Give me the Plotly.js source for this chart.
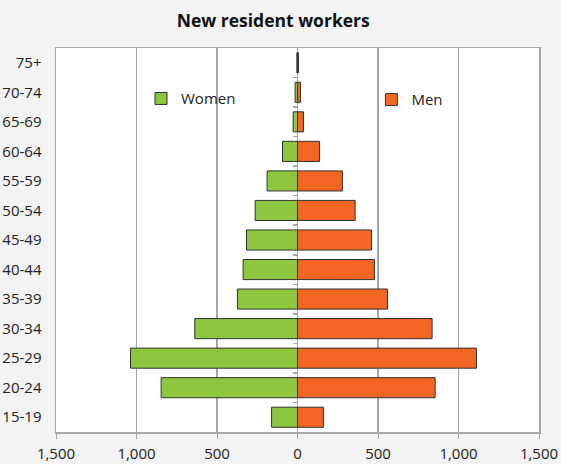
<!DOCTYPE html>
<html>
<head>
<meta charset="utf-8">
<script src="https://cdn.plot.ly/plotly-3.0.1.min.js"></script>
<style>html,body{margin:0;padding:0;background:#f2f3f2;}#chart{width:561px;height:464px;}</style>
</head>
<body>
<div id="chart"></div>
<script>
const ageGroups = ['15-19','20-24','25-29','30-34','35-39','40-44','45-49','50-54','55-59','60-64','65-69','70-74','75+'];
const women = [161, 847, 1037, 638, 373, 338, 317, 263, 189, 93, 27, 15, 4];
const men = [161, 855, 1112, 836, 559, 478, 460, 358, 279, 137, 37, 19, 6];
const xTickVals = [-1500, -1000, -500, 0, 500, 1000, 1500];
const xTickText = ['1,500', '1,000', '500', '0', '500', '1,000', '1,500'];
const catBoundaries = [0.5, 1.5, 2.5, 3.5, 4.5, 5.5, 6.5, 7.5, 8.5, 9.5, 10.5, 11.5];

const font = 'Open Sans, Noto Sans, sans-serif';
const data = [
  {
    type: 'bar', orientation: 'h', name: 'Women',
    y: ageGroups, x: women.map(v => -v),
    marker: {color: '#8dc63f', line: {color: '#333333', width: 1}},
    legend: 'legend', hoverinfo: 'skip'
  },
  {
    type: 'bar', orientation: 'h', name: 'Men',
    y: ageGroups, x: men,
    marker: {color: '#f26522', line: {color: '#333333', width: 1}},
    legend: 'legend2', hoverinfo: 'skip'
  },
  {
    type: 'scatter', mode: 'markers', x: [0], y: [0], yaxis: 'y2',
    marker: {opacity: 0}, showlegend: false, hoverinfo: 'skip'
  }
];

const layout = {
  width: 561, height: 464,
  paper_bgcolor: '#f2f3f2', plot_bgcolor: '#ffffff',
  margin: {l: 56, r: 22, t: 48, b: 32},
  title: {text: '<b>New resident workers</b>', x: 0.487, xanchor: 'center', y: 0.955, yanchor: 'middle',
          font: {family: font, size: 17.5, color: '#111111'}},
  barmode: 'relative', bargap: 0.32,
  font: {family: font, size: 15, color: '#222222'},
  xaxis: {
    range: [-1500, 1500], tickvals: xTickVals, ticktext: xTickText,
    showgrid: true, gridcolor: '#a6a6a6', gridwidth: 1.3,
    zeroline: false, showline: true, mirror: true, linecolor: '#a6a6a6', linewidth: 1.5,
    ticks: 'outside', ticklen: 5, tickcolor: '#a6a6a6', ticklabelstandoff: 2,
    tickfont: {family: font, size: 15, color: '#222222'}, fixedrange: true
  },
  yaxis: {
    type: 'category', range: [-0.5, 12.5],
    showline: true, mirror: true, linecolor: '#a6a6a6', linewidth: 1.5,
    ticks: '', ticklabelstandoff: 10,
    tickfont: {family: font, size: 15, color: '#222222'}, fixedrange: true
  },
  yaxis2: {
    overlaying: 'y', anchor: 'free', position: 0.5, side: 'left',
    range: [-0.5, 12.5], tickvals: catBoundaries, showticklabels: false,
    ticks: 'outside', ticklen: 5, tickcolor: '#a6a6a6', tickwidth: 1.5,
    showgrid: false, zeroline: false, showline: false, fixedrange: true
  },
  legend: {x: 0.176, y: 0.868, xanchor: 'left', yanchor: 'middle', bgcolor: 'rgba(0,0,0,0)',
           font: {family: font, size: 15, color: '#222222'}, itemwidth: 30},
  legend2: {x: 0.653, y: 0.865, xanchor: 'left', yanchor: 'middle', bgcolor: 'rgba(0,0,0,0)',
           font: {family: font, size: 15, color: '#222222'}, itemwidth: 30},
  showlegend: true
};

Plotly.newPlot('chart', data, layout, {displayModeBar: false, staticPlot: true});
</script>
</body>
</html>
